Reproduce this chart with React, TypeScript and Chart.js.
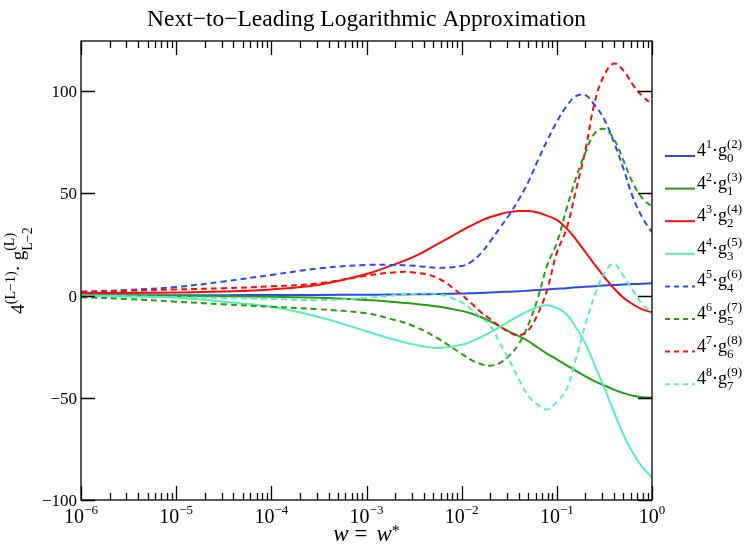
import React, { useEffect, useRef } from 'react';
import { Chart, registerables } from 'chart.js';

Chart.register(...registerables);

// log10(w) sample positions
const logW = [-6, -5.5, -5, -4.5, -4, -3.5, -3, -2.75, -2.5, -2.25, -2, -1.9, -1.8, -1.7, -1.6, -1.5, -1.4, -1.3, -1.2, -1.1, -1, -0.9, -0.8, -0.7, -0.6, -0.5, -0.4, -0.3, -0.2, -0.1, 0];

// 4^1 g0^(2)
const g0 = [0.2, 0.2, 0.2, 0.2, 0.3, 0.3, 0.4, 0.5, 0.6, 0.8, 1.0, 1.1, 1.3, 1.5, 1.7, 1.9, 2.1, 2.4, 2.7, 3.0, 3.3, 3.6, 4.0, 4.3, 4.6, 4.9, 5.2, 5.4, 5.6, 5.8, 6.0];
// 4^2 g1^(3)
const g1 = [0, -0.1, -0.2, -0.3, -0.6, -1.1, -2.2, -3.0, -4.0, -5.4, -7.5, -8.8, -10.5, -12.6, -15.2, -17.6, -19.8, -22.3, -25.5, -28.5, -31.2, -34, -36.8, -39.5, -42, -44, -46, -47.7, -49, -49.7, -50];
// 4^3 g2^(4)
const g2 = [1.2, 1.3, 1.5, 2.0, 3.0, 5.3, 10.5, 14.5, 19, 25.3, 31.7, 34.2, 36.5, 38.4, 39.8, 40.8, 41.3, 41.3, 40.6, 39.0, 37, 33, 27.5, 21.3, 15, 9, 3.5, -1.1, -4.3, -6.8, -8.2];
// 4^4 g3^(5)
const g3 = [0, -0.5, -1.1, -3.0, -5.5, -10.5, -17.5, -21, -24.0, -25.6, -24.1, -22.5, -20.4, -18.0, -15.4, -12.6, -9.9, -7.5, -5.6, -4.8, -6.1, -9.0, -15.5, -23.5, -34.3, -45.2, -57, -68, -77, -84, -89];
// 4^5 g4^(6)
const g4 = [1.8, 2.8, 4.2, 6.9, 10.1, 13.3, 15.0, 15.0, 14.6, 13.6, 14.4, 16.5, 20.5, 26.5, 33, 39.5, 47, 55.5, 66, 76, 85, 92.5, 97.5, 98, 93, 86, 75, 62, 48, 38, 31];
// 4^6 g5^(7)
const g5 = [-0.8, -1.7, -3.0, -4.3, -5.5, -6.7, -8.7, -11.4, -15, -21, -28.5, -31.5, -33.5, -34.3, -33, -29.4, -23.7, -14.3, -1.2, 15, 25.8, 42, 57.3, 69.9, 79.5, 81.5, 76.5, 66, 55, 47.5, 43.5];
// 4^7 g6^(8)
const g6 = [1.8, 2.3, 3.0, 3.6, 4.5, 6.0, 9.7, 11.2, 11.3, 8.5, 0.3, -3.7, -8, -11.5, -15, -18, -19.5, -17, -9, 3, 21, 32.4, 51.3, 71, 95, 108, 113.5, 110, 103, 97.5, 93.5];
// 4^8 g7^(9)
const g7 = [0, -0.4, -0.8, -1.2, -1.7, -2.2, -1.2, 0, 0.8, 0.8, -3.3, -6.7, -10.5, -14.6, -23.2, -31.5, -41, -49, -53.5, -55.7, -52, -46, -31, -14.1, 0.3, 11, 15.5, 9.5, 2.5, -4.3, -8.8];

const seriesValues = [g0, g1, g2, g3, g4, g5, g6, g7];
const legendPowers = [1, 2, 3, 4, 5, 6, 7, 8];
const legendSubs = [0, 1, 2, 3, 4, 5, 6, 7];
const legendSups = [2, 3, 4, 5, 6, 7, 8, 9];
const seriesColors = ['#2a48ff', '#22a010', '#ff0a0a', '#55f2b4', '#2a48ff', '#22a010', '#ff0a0a', '#55f2b4'];
const seriesDashed = [false, false, false, false, true, true, true, true];

const xTickExponents = [-6, -5, -4, -3, -2, -1, 0];
const yTickValues = [100, 50, 0, -50, -100];
const titleText = 'Next\u2212to\u2212Leading Logarithmic Approximation';

const FONT = '"Liberation Serif", "Times New Roman", serif';

type Seg = { t: string; size: number; dy: number; dx?: number; italic?: boolean; stack?: boolean };

function drawRich(ctx: CanvasRenderingContext2D, segs: Seg[], x: number, y: number, dry = false): number {
  let cx = x;
  let prevX = x;
  for (const s of segs) {
    ctx.font = `${s.italic ? 'italic ' : ''}${s.size}px ${FONT}`;
    const w = ctx.measureText(s.t).width;
    let sx: number;
    if (s.stack) {
      sx = prevX;
      cx = Math.max(cx, prevX + w);
    } else {
      sx = cx + (s.dx || 0);
      cx = sx + w;
    }
    if (!dry) ctx.fillText(s.t, sx, y + s.dy);
    prevX = sx;
  }
  return cx - x;
}

const decorPlugin = {
  id: 'decor',
  afterDraw(chart: any) {
    const ctx: CanvasRenderingContext2D = chart.ctx;
    const { left, right, top, bottom } = chart.chartArea;
    const xs = chart.scales.x;
    const ys = chart.scales.y;
    ctx.save();
    ctx.fillStyle = '#000';
    ctx.strokeStyle = '#000';
    ctx.lineWidth = 1.3;
    ctx.textAlign = 'left';
    ctx.textBaseline = 'alphabetic';

    // frame
    ctx.strokeRect(left, top, right - left, bottom - top);

    // x ticks (major + minor), inward, bottom and top
    ctx.beginPath();
    const xMaxVal = Math.pow(10, xTickExponents[xTickExponents.length - 1]);
    for (let i = 0; i < xTickExponents.length; i++) {
      const e = xTickExponents[i];
      for (let m = 1; m <= 9; m++) {
        const v = m * Math.pow(10, e);
        if (v > xMaxVal * 1.0001) break;
        const px = Math.round(xs.getPixelForValue(v)) + 0.5;
        const len = m === 1 ? 14 : 7;
        ctx.moveTo(px, bottom);
        ctx.lineTo(px, bottom - len);
        ctx.moveTo(px, top);
        ctx.lineTo(px, top + len);
      }
    }
    // y ticks inward, left and right
    for (const v of yTickValues) {
      const py = Math.round(ys.getPixelForValue(v)) + 0.5;
      ctx.moveTo(left, py);
      ctx.lineTo(left + 14, py);
      ctx.moveTo(right, py);
      ctx.lineTo(right - 14, py);
    }
    ctx.stroke();

    // y tick labels
    ctx.font = `17px ${FONT}`;
    ctx.textAlign = 'right';
    for (const v of yTickValues) {
      const py = ys.getPixelForValue(v);
      const label = v < 0 ? '\u2212' + Math.abs(v) : String(v);
      ctx.fillText(label, left - 4, py + 6);
    }
    ctx.textAlign = 'left';

    // x tick labels 10^e
    for (const e of xTickExponents) {
      const px = xs.getPixelForValue(Math.pow(10, e));
      const segs: Seg[] = [
        { t: '10', size: 20, dy: 0 },
        { t: e < 0 ? '\u2212' + Math.abs(e) : String(e), size: 13, dy: -9 },
      ];
      const w = drawRich(ctx, segs, 0, 0, true);
      drawRich(ctx, segs, px - w / 2, bottom + 23);
    }

    // title
    ctx.font = `23.5px ${FONT}`;
    ctx.textAlign = 'center';
    ctx.fillText(titleText, (left + right) / 2, 26);
    ctx.textAlign = 'left';

    // x axis label: w = w*
    const xl: Seg[] = [
      { t: 'w', size: 23, dy: 0, italic: true },
      { t: '=', size: 23, dy: 0, dx: 6 },
      { t: 'w', size: 23, dy: 0, dx: 9, italic: true },
      { t: '*', size: 16, dy: -5 },
    ];
    const xlw = drawRich(ctx, xl, 0, 0, true);
    drawRich(ctx, xl, (left + right) / 2 - xlw / 2, 541);

    // y axis label (rotated)
    const yl: Seg[] = [
      { t: '4', size: 19, dy: 0 },
      { t: '(L\u22121)', size: 14, dy: -9 },
      { t: '\u00b7 ', size: 19, dy: 0 },
      { t: 'g', size: 19, dy: 0 },
      { t: 'L\u22122', size: 14, dy: 8 },
      { t: '(L)', size: 14, dy: -10, stack: true },
    ];
    const ylw = drawRich(ctx, yl, 0, 0, true);
    ctx.save();
    ctx.translate(24, (top + bottom) / 2);
    ctx.rotate(-Math.PI / 2);
    drawRich(ctx, yl, -ylw / 2, 0);
    ctx.restore();

    // legend
    const lx0 = right + 13;
    const lx1 = right + 43;
    const tx = right + 45;
    const ly0 = top + 115;
    const step = 32.6;
    for (let i = 0; i < seriesValues.length; i++) {
      const ly = ly0 + i * step;
      ctx.save();
      ctx.strokeStyle = seriesColors[i];
      ctx.lineWidth = 2;
      ctx.setLineDash(seriesDashed[i] ? [5, 4] : []);
      ctx.beginPath();
      ctx.moveTo(lx0, ly);
      ctx.lineTo(lx1, ly);
      ctx.stroke();
      ctx.restore();
      const segs: Seg[] = [
        { t: '4', size: 18, dy: 0 },
        { t: String(legendPowers[i]), size: 12, dy: -8 },
        { t: '\u00b7', size: 18, dy: 0 },
        { t: 'g', size: 18, dy: 0 },
        { t: String(legendSubs[i]), size: 13, dy: 6 },
        { t: '(' + legendSups[i] + ')', size: 13, dy: -8, stack: true },
      ];
      drawRich(ctx, segs, tx, ly);
    }
    ctx.restore();
  },
};

export default function App() {
  const canvasRef = useRef<HTMLCanvasElement | null>(null);

  useEffect(() => {
    const canvas = canvasRef.current;
    if (!canvas) return;
    const datasets = seriesValues.map((vals, i) => ({
      label: `4^${legendPowers[i]} g${legendSubs[i]}^(${legendSups[i]})`,
      data: vals.map((v, j) => ({ x: Math.pow(10, logW[j]), y: v })),
      borderColor: seriesColors[i],
      backgroundColor: seriesColors[i],
      borderWidth: 2,
      borderDash: seriesDashed[i] ? [6, 4] : [],
      pointRadius: 0,
      fill: false,
      tension: 0.4,
      order: seriesValues.length - i,
    }));
    const chart = new Chart(canvas, {
      type: 'line',
      data: { datasets },
      options: {
        animation: false,
        responsive: false,
        maintainAspectRatio: false,
        layout: { padding: { left: 81, right: 94, top: 41, bottom: 45 } },
        plugins: {
          legend: { display: false },
          title: { display: false },
          tooltip: { enabled: false },
        },
        scales: {
          x: { type: 'logarithmic', min: 1e-6, max: 1, display: false },
          y: { type: 'linear', min: -100, max: 124.5, display: false },
        },
      },
      plugins: [decorPlugin],
    });
    return () => chart.destroy();
  }, []);

  return (
    <div style={{ position: 'absolute', left: 0, top: 0, width: 746, height: 545, background: '#fff' }}>
      <canvas ref={canvasRef} width={746} height={545} />
    </div>
  );
}
